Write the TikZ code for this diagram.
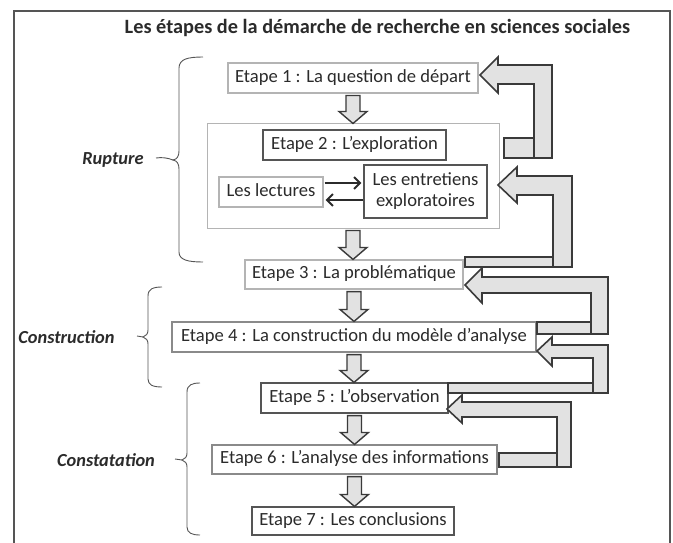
\documentclass[tikz,border=0pt]{standalone}
\usepackage{fontspec}
\setmainfont{Carlito}
\usetikzlibrary{calc,arrows.meta}
\definecolor{txt}{HTML}{2B2B2B}
\definecolor{lightbd}{HTML}{B4B4B4}
\definecolor{midbd}{HTML}{8A8A8A}
\definecolor{darkbd}{HTML}{555555}
\definecolor{blkfill}{HTML}{E2E2E2}
\definecolor{blkline}{HTML}{3A3A3A}
\newcommand\downblk[2]{%
  \path[dblk] let \p1=(#1.south), \p2=(#2.north) in
    (\x1-7pt,\y1-2pt) -- (\x1+7pt,\y1-2pt) -- (\x1+7pt,\y2+12pt) -- (\x1+14pt,\y2+12pt)
    -- (\x1,\y2) -- (\x1-14pt,\y2+12pt) -- (\x1-7pt,\y2+12pt) -- cycle;}
\begin{document}
\begin{tikzpicture}[x=1pt,y=-1pt,
  box/.style={draw=#1, line width=1.1pt, inner sep=0pt, text=txt,
    font=\fontsize{18.6}{21}\selectfont, text height=12.5pt, text depth=4pt},
  dblk/.style={draw=blkline, fill=blkfill, line width=1.4pt, line join=miter},
  fblk/.style={draw=blkline, fill=blkfill, line width=1.6pt, line join=miter},
  lnk/.style={draw=txt, line width=2pt, -{Straight Barb[length=6pt,width=12pt]}},
  brc/.style={draw=darkbd, line width=0.9pt},
  lbl/.style={text=txt, font=\fontsize{18.4}{21}\selectfont\bfseries\itshape, inner sep=0pt},
  ttl/.style={text=txt, font=\fontsize{20.3}{23}\selectfont\bfseries, inner sep=0pt}]
\useasboundingbox (0,0) rectangle (673,543);
\fill[white] (0,0) rectangle (673,543);
% frame
\draw[darkbd, line width=1.5pt] (14,560) -- (14,11) -- (670,11) -- (670,560);
% title
\node[ttl] (title) at (377.5,28) {Les étapes de la démarche de recherche en sciences sociales};
% boxes
\node[box=lightbd, minimum width=250pt, minimum height=30pt] (e1) at (353,78) {Etape 1 : La question de départ};
\node[draw=lightbd, line width=1pt, minimum width=292pt, minimum height=104pt, inner sep=0pt] (expl) at (353,176) {};
\node[box=darkbd, minimum width=183pt, minimum height=30pt] (e2) at (354.5,145) {Etape 2 : L’exploration};
\node[box=lightbd, minimum width=104pt, minimum height=30pt] (lect) at (271,192) {Les lectures};
\node[draw=darkbd, line width=1.1pt, inner sep=0pt, text=txt, minimum width=123pt, minimum height=53pt, align=center, font=\fontsize{18.6}{21}\selectfont] (entr) at (425.5,191.5) {Les entretiens\\exploratoires};
\node[box=lightbd, minimum width=218pt, minimum height=29pt] (e3) at (354,274.5) {Etape 3 : La problématique};
\node[box=midbd, minimum width=364pt, minimum height=30pt] (e4) at (354,337) {Etape 4 : La construction du modèle d’analyse};
\node[box=darkbd, minimum width=187pt, minimum height=30pt] (e5) at (354.5,398) {Etape 5 : L’observation};
\node[box=midbd, minimum width=285pt, minimum height=29pt] (e6) at (354.5,459.5) {Etape 6 : L’analyse des informations};
\node[box=darkbd, minimum width=202pt, minimum height=28pt] (e7) at (353,521) {Etape 7 : Les conclusions};
% down block arrows
\downblk{e1}{expl}
\downblk{expl}{e3}
\downblk{e3}{e4}
\downblk{e4}{e5}
\downblk{e5}{e6}
\downblk{e6}{e7}
% lectures <-> entretiens
\draw[lnk] ($(lect.east)+(1,-9)$) -- ($(entr.west |- lect.east)+(-2,-9)$);
\draw[lnk] ($(entr.west |- lect.east)+(0,8)$) -- ($(lect.east)+(2,8)$);
% feedback arrows
\path[fblk] (504,138) rectangle (534,158);
\path[fblk] (480,75) -- (498,57) -- (498,65) -- (552,65) -- (552,158) -- (534,158) -- (534,84) -- (498,84) -- (498,93) -- cycle;
\path[fblk] (465,257) rectangle (553,267);
\path[fblk] (498,185) -- (517,167) -- (517,176) -- (572,176) -- (572,267) -- (553,267) -- (553,195) -- (517,195) -- (517,203) -- cycle;
\path[fblk] (537,322) rectangle (591,334);
\path[fblk] (465,285) -- (482,268) -- (482,277) -- (608,277) -- (608,334) -- (591,334) -- (591,293) -- (482,293) -- (482,303) -- cycle;
\path[fblk] (448,383) rectangle (593,393);
\path[fblk] (537,351) -- (552,337) -- (552,345) -- (608,345) -- (608,393) -- (593,393) -- (593,358) -- (552,358) -- (552,366) -- cycle;
\path[fblk] (499,453) rectangle (557,467);
\path[fblk] (447,409) -- (462,395) -- (462,402) -- (571,402) -- (571,467) -- (557,467) -- (557,417) -- (462,417) -- (462,423) -- cycle;
% braces
\draw[brc] (203,57) .. controls (188,57) and (179,59) .. (179,68) -- (179,150)
  .. controls (179,157) and (177,159) .. (173,160) .. controls (177,161) and (179,163) .. (179,170)
  -- (179,252) .. controls (179,260) and (188,262) .. (203,262);
\draw[brc] (156,158) .. controls (162,157) and (168,158) .. (173,160);
\draw[brc] (162,287) .. controls (153,287) and (148,289) .. (148,296) -- (148,330)
  .. controls (148,334) and (146,336) .. (143,337) .. controls (146,338) and (148,340) .. (148,344)
  -- (148,379) .. controls (148,385) and (153,387) .. (162,387);
\draw[brc] (137,336) -- (143,337);
\draw[brc] (200,383) .. controls (192,383) and (187,385) .. (187,392) -- (187,453)
  .. controls (187,457) and (185,459) .. (182,460) .. controls (185,461) and (187,463) .. (187,467)
  -- (187,527) .. controls (187,533) and (192,535) .. (200,535);
\draw[brc] (175,459) -- (182,460);
% labels
\node[lbl] (rup) at (113,160) {Rupture};
\node[lbl] (con) at (66.5,337) {Construction};
\node[lbl] (cst) at (106,460) {Constatation};
\end{tikzpicture}
\end{document}
